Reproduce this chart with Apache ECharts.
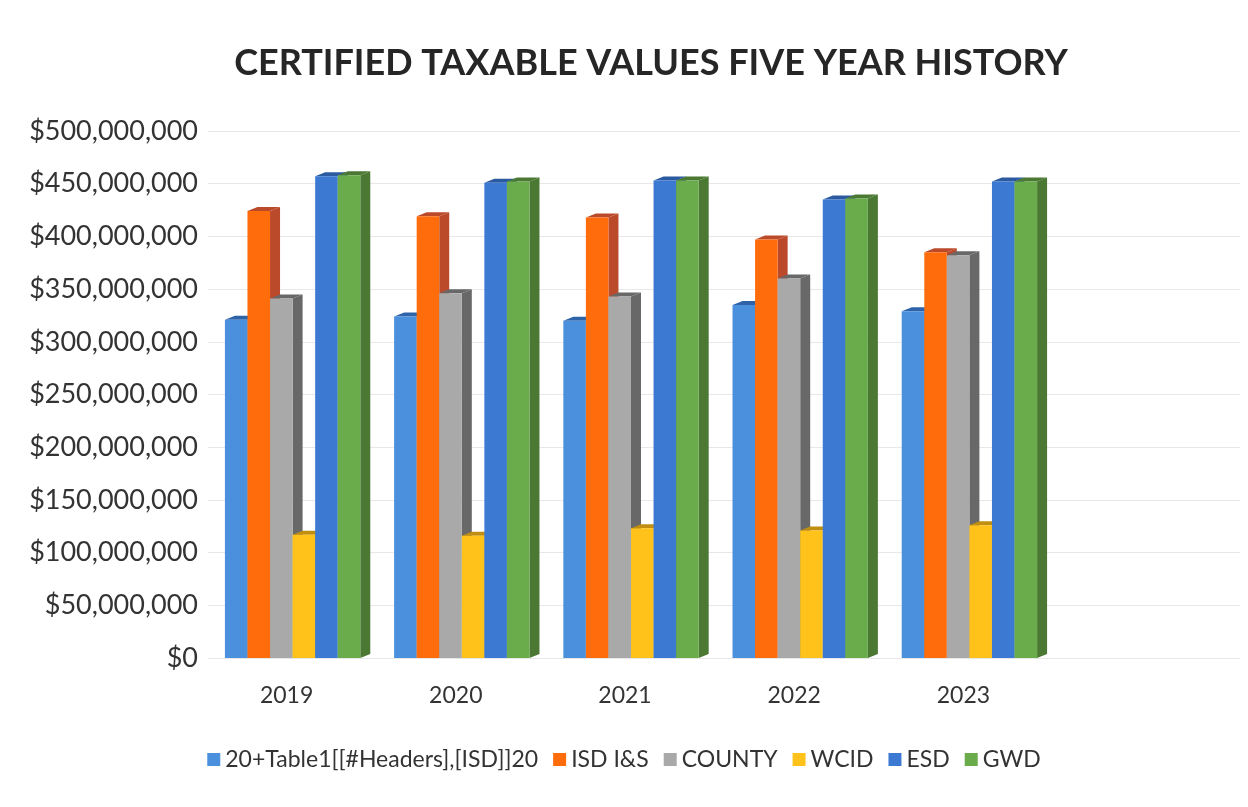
<!DOCTYPE html>
<html>
<head>
<meta charset="utf-8">
<script src="https://cdn.jsdelivr.net/npm/echarts@6/dist/echarts.min.js"></script>
<style>
html,body{margin:0;padding:0;background:#fff;}
#chart{width:1248px;height:807px;}
</style>
</head>
<body>
<div id="chart"></div>
<script>
var years = ['2019', '2020', '2021', '2022', '2023'];
var seriesNames = ['20+Table1[[#Headers],[ISD]]20', 'ISD I&S', 'COUNTY', 'WCID', 'ESD', 'GWD'];
var isd    = [321000000, 324000000, 320000000, 335000000, 329000000];
var isdIS  = [424000000, 419000000, 418000000, 397000000, 385000000];
var county = [341000000, 346000000, 343000000, 360000000, 382000000];
var wcid   = [117000000, 116000000, 123000000, 121000000, 126000000];
var esd    = [457000000, 451000000, 453000000, 435000000, 452000000];
var gwd    = [458000000, 452000000, 453000000, 436000000, 452000000];
var yTicks = [0, 50000000, 100000000, 150000000, 200000000, 250000000, 300000000, 350000000, 400000000, 450000000, 500000000];

var allValues = [isd, isdIS, county, wcid, esd, gwd];
var frontColors = ['#4b90dc', '#ff6c0c', '#a9a9a9', '#ffc21a', '#3b79d3', '#6aab4b'];
var sideColors  = ['#2f63a8', '#bb4a2b', '#686868', '#c08e10', '#2b5aa0', '#4b7833'];

var FONT = 'Lato, "Open Sans", sans-serif';

function fmt(v) {
  return '$' + v.toString().replace(/\B(?=(\d{3})+(?!\d))/g, ',');
}

function makeRender(idx) {
  return function (params, api) {
    var cat = api.value(0);
    var val = api.value(1);
    var base = api.coord([cat, 0]);
    var top = api.coord([cat, val]);
    var band = api.size([1, 0])[0];
    var bw = band * 0.8 / 6;
    var x0 = base[0] - 3 * bw + idx * bw;
    var x1 = x0 + bw;
    var yT = top[1], yB = base[1];
    var dx = 10, dy = 4;
    return {
      type: 'group',
      children: [
        {
          type: 'polygon',
          shape: { points: [[x1, yT], [x1 + dx, yT - dy], [x1 + dx, yB - dy], [x1, yB]] },
          style: { fill: sideColors[idx] }
        },
        {
          type: 'polygon',
          shape: { points: [[x0, yT], [x0 + dx, yT - dy], [x1 + dx, yT - dy], [x1, yT]] },
          style: { fill: sideColors[idx] }
        },
        {
          type: 'rect',
          shape: { x: x0, y: yT, width: bw, height: yB - yT },
          style: { fill: frontColors[idx] }
        }
      ]
    };
  };
}

var series = allValues.map(function (arr, i) {
  return {
    name: seriesNames[i],
    type: 'custom',
    xAxisIndex: 0,
    yAxisIndex: 0,
    itemStyle: { color: frontColors[i] },
    renderItem: makeRender(i),
    encode: { x: 0, y: 1 },
    data: arr.map(function (v, k) { return [k, v]; }),
    z: 2 + i
  };
});

var chart = echarts.init(document.getElementById('chart'), null, { renderer: 'canvas' });
chart.setOption({
  backgroundColor: '#ffffff',
  animation: false,
  title: {
    text: 'CERTIFIED TAXABLE VALUES FIVE YEAR HISTORY',
    left: 646,
    textAlign: 'center',
    top: 40,
    textStyle: { fontFamily: FONT, fontWeight: 'bold', fontSize: 36, color: '#262626' }
  },
  legend: {
    data: seriesNames,
    bottom: 31,
    left: 'center',
    icon: 'rect',
    itemWidth: 13,
    itemHeight: 13,
    itemGap: 15,
    textStyle: { fontFamily: FONT, fontSize: 23, color: '#333' }
  },
  grid: [
    { left: 208, right: 194, top: 131, bottom: 149 },
    { left: 208, right: 8, top: 131, bottom: 149 }
  ],
  xAxis: [
    {
      type: 'category', gridIndex: 0, data: years,
      axisLine: { show: false }, axisTick: { show: false },
      axisLabel: { fontFamily: FONT, fontSize: 23, color: '#333', margin: 26, padding: [0, 12, 0, 0] }
    },
    { type: 'value', gridIndex: 1, show: false, min: 0, max: 1 }
  ],
  yAxis: [
    {
      type: 'value', gridIndex: 0, min: 0, max: 500000000, interval: 50000000,
      axisLine: { show: false }, axisTick: { show: false }, splitLine: { show: false },
      axisLabel: {
        fontFamily: FONT, fontSize: 27, color: '#333', margin: 10,
        formatter: function (v) { return yTicks.indexOf(v) >= 0 ? fmt(v) : ''; }
      }
    },
    {
      type: 'value', gridIndex: 1, min: 0, max: 500000000, interval: 50000000,
      axisLine: { show: false }, axisTick: { show: false }, axisLabel: { show: false },
      splitLine: { show: true, lineStyle: { color: '#e8e8e8', width: 1 } }
    }
  ],
  series: series
});
</script>
</body>
</html>
